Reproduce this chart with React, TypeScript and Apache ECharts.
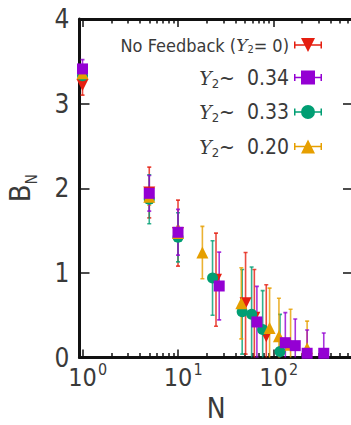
import React, { useEffect, useRef } from "react";
import * as echarts from "echarts";

// ---- data ----
const redN = [1, 5, 10, 25, 51, 63, 84];
const redB = [3.22, 1.95, 1.47, 0.92, 0.64, 0.47, 0.25];
const redErr = [0.12, 0.3, 0.39, 0.55, 0.6, 0.57, 0.61];

const purpleN = [1, 5, 10, 27, 67, 133, 169, 225, 336];
const purpleB = [3.41, 1.94, 1.48, 0.845, 0.42, 0.175, 0.14, 0.05, 0.05];
const purpleErr = [0.11, 0.21, 0.27, 0.4, 0.42, 0.355, 0.315, 0.275, 0.24];

const greenN = [1, 5, 10, 23, 47, 59, 77, 117];
const greenB = [3.33, 1.87, 1.42, 0.94, 0.54, 0.51, 0.33, 0.07];
const greenErr = [0.1, 0.29, 0.29, 0.44, 0.5, 0.56, 0.46, 0.44];

const orangeN = [1, 5, 10, 18, 46, 91, 114, 151, 225];
const orangeB = [3.36, 1.9, 1.47, 1.24, 0.64, 0.35, 0.25, 0.15, 0.11];
const orangeErr = [0.1, 0.1, 0.08, 0.31, 0.42, 0.47, 0.45, 0.42, 0.32];

const seriesNames = ["No Feedback", "Y034", "Y033", "Y020"];
const yTicks = [0, 1, 2, 3, 4];
const xMajorTicks = [1, 10, 100];
const xMinorTicks = [2, 3, 4, 5, 6, 7, 8, 9, 20, 30, 40, 50, 60, 70, 80, 90, 200, 300, 400, 500, 600];

const FONT = "'Liberation Sans Narrow', 'DejaVu Sans Condensed', 'Roboto', sans-serif";
const TXT = "#3a3a3a";
const AX = "#111";

const RED = "#e51e10";
const PURPLE = "#9400d3";
const GREEN = "#009e73";
const ORANGE = "#e69f00";

const bar = "M0,6.25 H28 V7.75 H0 Z M0,3.5 H1.5 V10.5 H0 Z M26.5,3.5 H28 V10.5 H26.5 Z ";
const ICON_RED = "path://" + bar + "M7,0 H21 L14,14 Z";
const ICON_PURPLE = "path://" + bar + "M7,0 H21 V14 H7 Z";
const ICON_GREEN = "path://" + bar + "M21,7 A7,7 0 1 1 7,7 A7,7 0 1 1 21,7 Z";
const ICON_ORANGE = "path://" + bar + "M14,0 L21,14 H7 Z";

const X_MIN = 0.93;
const X_MAX = 680;

function errData(N: number[], B: number[], E: number[]) {
  return N.map((n, i) => [n, B[i] - E[i], B[i] + E[i]]);
}
function ptData(N: number[], B: number[]) {
  return N.map((n, i) => [n, B[i]]);
}

function errSeries(name: string, color: string, N: number[], B: number[], E: number[]) {
  return {
    type: "custom",
    name: name + "_err",
    clip: true,
    silent: true,
    encode: { x: 0, y: [1, 2] },
    data: errData(N, B, E),
    renderItem: (params: any, api: any) => {
      const x = api.value(0);
      const lo = api.coord([x, api.value(1)]);
      const hi = api.coord([x, api.value(2)]);
      const hw = 2;
      const style = { stroke: color, lineWidth: 1.6, opacity: 0.8 };
      return {
        type: "group",
        children: [
          { type: "line", shape: { x1: lo[0], y1: lo[1], x2: hi[0], y2: hi[1] }, style },
          { type: "line", shape: { x1: hi[0] - hw, y1: hi[1], x2: hi[0] + hw, y2: hi[1] }, style },
          { type: "line", shape: { x1: lo[0] - hw, y1: lo[1], x2: lo[0] + hw, y2: lo[1] }, style },
        ],
      };
    },
  };
}

function ptSeries(name: string, color: string, symbol: string, size: number, rotate: number, N: number[], B: number[]) {
  return {
    type: "scatter",
    name,
    symbol,
    symbolSize: size,
    symbolRotate: rotate,
    itemStyle: { color, opacity: 1 },
    data: ptData(N, B),
  };
}

function xAxisDef(position: string, major: boolean, withLabel: boolean) {
  return {
    type: "log",
    position,
    min: X_MIN,
    max: X_MAX,
    logBase: 10,
    axisLine: { show: major, lineStyle: { color: AX, width: 3 } },
    axisTick: {
      show: true,
      inside: true,
      length: major ? 8 : 4.5,
      customValues: major ? xMajorTicks : xMinorTicks,
      lineStyle: { color: AX, width: 1.5 },
    },
    axisLabel: withLabel
      ? {
          show: true,
          customValues: xMajorTicks,
          margin: 20,
          verticalAlign: "middle",
          fontFamily: FONT,
          fontSize: 25,
          color: TXT,
          formatter: () => "10",
        }
      : { show: false },
    splitLine: { show: false },
    name: withLabel ? "N" : "",
    nameLocation: "middle",
    nameGap: 36,
    nameTextStyle: { fontFamily: FONT, fontSize: 28, color: TXT, lineHeight: 28 },
  };
}

// exponent labels of the "10^k" tick labels
const xExpAxis = {
  type: "log",
  position: "bottom",
  min: X_MIN,
  max: X_MAX,
  logBase: 10,
  axisLine: { show: false },
  axisTick: { show: false },
  splitLine: { show: false },
  axisLabel: {
    show: true,
    customValues: xMajorTicks,
    margin: 11.5,
    verticalAlign: "middle",
    fontFamily: FONT,
    fontSize: 16,
    color: TXT,
    padding: [0, 0, 0, 40],
    formatter: (v: number) => String(Math.round(Math.log10(v))),
  },
};

const legendRich = {
  n: { fontFamily: FONT, fontSize: 18, color: TXT, lineHeight: 20 },
  ni: { fontFamily: "'DejaVu Serif', serif", fontStyle: "italic", fontSize: 17, color: TXT, lineHeight: 20 },
  ns: { fontFamily: FONT, fontSize: 11, color: TXT, lineHeight: 20, verticalAlign: "bottom" },
  t: { fontFamily: FONT, fontSize: 21, color: TXT, lineHeight: 24 },
  i: { fontFamily: "'DejaVu Serif', serif", fontStyle: "italic", fontSize: 19, color: TXT, lineHeight: 24 },
  s: { fontFamily: FONT, fontSize: 13, color: TXT, lineHeight: 24, verticalAlign: "bottom" },
};

const legendLabels: Record<string, string> = {
  "No Feedback": "{n|No Feedback (}{ni|Υ}{ns|2}{n|= 0)}",
  Y034: "{i|Υ}{s|2}{t|~  0.34}",
  Y033: "{i|Υ}{s|2}{t|~  0.33}",
  Y020: "{i|Υ}{s|2}{t|~  0.20}",
};

export default function App() {
  const ref = useRef<HTMLDivElement>(null);
  useEffect(() => {
    if (!ref.current) return;
    const chart = echarts.init(ref.current, undefined, { renderer: "svg" });
    chart.setOption({
      animation: false,
      backgroundColor: "#fff",
      grid: { left: 79.5, top: 19, right: -2, bottom: 67.5, containLabel: false, outerBoundsMode: "none" },
      xAxis: [
        xAxisDef("bottom", true, true),
        xAxisDef("bottom", false, false),
        xAxisDef("top", true, false),
        xAxisDef("top", false, false),
        xExpAxis,
      ],
      yAxis: [
        {
          type: "value",
          position: "left",
          min: 0,
          max: 4,
          interval: 1,
          axisLine: { show: true, lineStyle: { color: AX, width: 3 } },
          axisTick: { show: true, inside: true, length: 10, lineStyle: { color: AX, width: 1.5 } },
          axisLabel: {
            margin: 10,
            fontFamily: FONT,
            fontSize: 26,
            color: TXT,
            formatter: (v: number) => (yTicks.includes(v) ? String(v) : ""),
          },
          splitLine: { show: false },
          name: "{b|B}{s|N}",
          nameLocation: "middle",
          nameGap: 40,
          nameTextStyle: {
            rich: {
              b: { fontFamily: FONT, fontSize: 29, color: TXT, verticalAlign: "top", lineHeight: 34 },
              s: { fontFamily: FONT, fontSize: 15, color: TXT, verticalAlign: "bottom", lineHeight: 34 },
            },
          },
        },
        {
          type: "value",
          position: "right",
          min: 0,
          max: 4,
          interval: 1,
          axisLine: { show: true, lineStyle: { color: AX, width: 3 } },
          axisTick: { show: true, inside: true, length: 10, lineStyle: { color: AX, width: 1.5 } },
          axisLabel: { show: false },
          splitLine: { show: false },
        },
      ],
      legend: {
        orient: "vertical",
        right: 24,
        top: 31,
        align: "right",
        itemWidth: 28,
        itemHeight: 14,
        itemGap: 12,
        selectedMode: false,
        data: [
          { name: "No Feedback", icon: ICON_RED },
          { name: "Y034", icon: ICON_PURPLE },
          { name: "Y033", icon: ICON_GREEN },
          { name: "Y020", icon: ICON_ORANGE },
        ],
        formatter: (name: string) => legendLabels[name],
        textStyle: { rich: legendRich, color: TXT },
      },
      series: [
        errSeries(seriesNames[0], RED, redN, redB, redErr),
        ptSeries(seriesNames[0], RED, "triangle", 12, 180, redN, redB),
        errSeries(seriesNames[2], GREEN, greenN, greenB, greenErr),
        ptSeries(seriesNames[2], GREEN, "circle", 11, 0, greenN, greenB),
        errSeries(seriesNames[3], ORANGE, orangeN, orangeB, orangeErr),
        ptSeries(seriesNames[3], ORANGE, "triangle", 12, 0, orangeN, orangeB),
        errSeries(seriesNames[1], PURPLE, purpleN, purpleB, purpleErr),
        ptSeries(seriesNames[1], PURPLE, "rect", 11, 0, purpleN, purpleB),
      ],
    });
    return () => chart.dispose();
  }, []);
  return (
    <div
      ref={ref}
      style={{ position: "fixed", left: 0, top: 0, width: 351, height: 425, background: "#fff" }}
    />
  );
}
